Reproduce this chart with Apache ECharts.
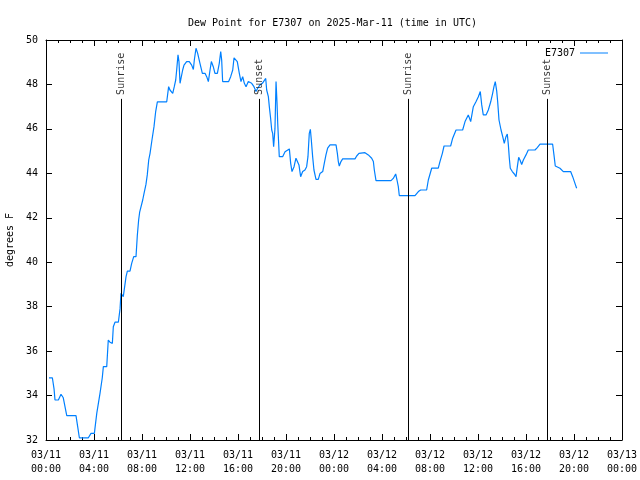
<!DOCTYPE html>
<html><head><meta charset="utf-8">
<script src="https://cdn.jsdelivr.net/npm/echarts@6/dist/echarts.min.js"></script>
<style>html,body{margin:0;padding:0;background:#fff}#c{width:640px;height:480px}</style>
</head><body><div id="c"></div>
<script>
// hours since 03/11 00:00 UTC
var hours = [0.25,0.53,0.67,0.75,1.03,1.25,1.44,1.73,2.5,2.64,2.78,3.53,3.75,4.03,4.23,4.5,4.69,4.78,5.06,5.19,5.33,5.53,5.61,5.75,6.03,6.17,6.25,6.44,6.67,6.78,7.0,7.14,7.31,7.5,7.61,7.72,7.81,7.94,8.06,8.17,8.33,8.44,8.56,8.67,8.83,9.0,9.14,9.28,10.06,10.22,10.33,10.56,10.69,10.81,10.89,11.0,11.08,11.17,11.25,11.39,11.5,11.72,11.94,12.14,12.28,12.36,12.5,12.64,12.83,13.03,13.25,13.39,13.53,13.67,13.78,13.94,14.08,14.28,14.44,14.56,14.64,14.72,15.22,15.39,15.56,15.67,15.78,15.94,16.11,16.25,16.39,16.53,16.67,16.86,17.0,17.14,17.33,17.5,17.64,17.83,18.03,18.31,18.39,18.53,18.61,18.72,18.81,18.89,18.97,19.08,19.17,19.25,19.31,19.44,19.72,19.92,20.28,20.39,20.5,20.67,20.83,21.08,21.22,21.39,21.58,21.72,21.83,21.94,22.03,22.11,22.22,22.33,22.5,22.69,22.83,23.06,23.19,23.33,23.47,23.67,24.17,24.28,24.36,24.44,24.58,24.72,25.75,25.89,26.08,26.58,26.86,27.14,27.28,27.36,27.5,28.75,28.94,29.14,29.25,29.36,29.44,30.75,31.03,31.22,31.72,31.86,32.14,32.69,32.83,33.03,33.17,33.72,33.89,34.17,34.72,34.92,35.19,35.39,35.61,35.83,36.03,36.19,36.31,36.44,36.67,36.86,37.06,37.22,37.33,37.44,37.56,37.64,37.75,37.92,38.06,38.19,38.33,38.44,38.53,38.61,38.69,38.86,39.03,39.17,39.28,39.39,39.5,39.64,39.78,40.0,40.19,40.75,40.94,41.17,42.22,42.33,42.44,42.58,42.83,43.11,43.72,43.89,44.08,44.22];
var dewPoint = [34.8,34.8,34.3,33.8,33.8,34.06,33.9,33.1,33.1,32.6,32.1,32.1,32.3,32.3,33.2,34.1,34.8,35.3,35.3,36.5,36.4,36.35,37.1,37.3,37.3,37.9,38.6,38.45,39.35,39.6,39.6,39.95,40.25,40.25,41.2,41.9,42.27,42.35,42.8,43.1,43.5,43.93,44.6,44.9,45.5,46.1,46.78,47.22,47.22,47.9,47.75,47.6,47.9,48.2,48.65,49.33,49.03,48.05,48.27,48.65,48.87,49.03,49.03,48.87,48.67,49.1,49.63,49.4,48.95,48.5,48.5,48.35,48.13,48.65,49.03,48.8,48.5,48.5,48.95,49.48,49.1,48.13,48.13,48.35,48.65,49.2,49.28,49.03,48.5,48.13,48.35,48.05,47.9,48.13,48.2,48.05,47.9,47.68,47.83,47.98,48.05,48.27,47.75,47.45,47.0,46.47,45.95,45.8,45.2,46.0,48.13,47.2,46.25,44.75,44.75,44.97,45.1,44.45,44.08,44.3,44.68,44.38,43.85,44.08,44.15,44.3,44.75,45.8,45.98,45.5,44.75,44.15,43.73,43.73,43.99,44.08,44.45,44.83,45.13,45.28,45.28,44.9,44.53,44.33,44.53,44.65,44.65,44.78,44.9,44.93,44.83,44.68,44.53,44.15,43.67,43.67,43.77,43.97,43.7,43.4,43.0,43.0,43.18,43.25,43.25,43.7,44.23,44.23,44.53,44.9,45.23,45.23,45.58,45.95,45.95,46.33,46.63,46.33,47.0,47.22,47.45,47.68,47.08,46.63,46.63,46.85,47.22,47.6,47.9,48.13,47.7,47.22,46.4,45.95,45.65,45.35,45.65,45.77,45.28,44.68,44.23,44.08,43.97,43.85,44.3,44.72,44.6,44.4,44.6,44.83,45.05,45.05,45.16,45.31,45.31,44.83,44.33,44.3,44.23,44.08,44.08,43.85,43.55,43.33];
var sunEventNames = ['Sunrise','Sunset','Sunrise','Sunset'];
var sunEventHours = [6.28,17.78,30.19,41.78];
var seriesName = 'E7307';
var titleText = 'Dew Point for E7307 on 2025-Mar-11 (time in UTC)';
var yTicks = [32,34,36,38,40,42,44,46,48,50];

var FONT = 'DejaVu Sans Mono';
var COLOR = '#0080ff';
var pts = hours.map(function(h,i){return [h, dewPoint[i]];});
var LABEL_TOP = 47.35;
function fmtX(v){
  var d = 11 + Math.floor(v/24);
  var hh = Math.round(v % 24);
  var p = function(n){return (n<10?'0':'')+n;};
  return '03/' + p(d) + '\n' + p(hh) + ':00';
}
var axisBase = {
  type:'value', min:0, max:48, interval:4,
  axisLine:{show:true, onZero:false, lineStyle:{color:'#000', width:1}},
  splitLine:{show:false},
  minorSplitLine:{show:false}
};
var chart = echarts.init(document.getElementById('c'), null, {renderer:'canvas'});
chart.setOption({
  animation:false,
  backgroundColor:'#fff',
  textStyle:{fontFamily:FONT},
  title:{text:titleText, left:183, top:13, textStyle:{fontFamily:FONT, fontSize:10, fontWeight:'normal', color:'#000'}},
  legend:{data:[seriesName], right:27, top:43, align:'right', icon:'rect', itemWidth:28, itemHeight:1,
    textStyle:{fontFamily:FONT, fontSize:10, color:'#000'}},
  grid:{left:46, right:18, top:40, bottom:40, containLabel:false, outerBoundsMode:'none'},
  xAxis:[
    Object.assign({}, axisBase, {position:'bottom',
      axisTick:{show:true, inside:true, length:6, lineStyle:{color:'#000'}},
      minorTick:{show:true, splitNumber:4, length:3, lineStyle:{color:'#000'}},
      axisLabel:{show:true, formatter:fmtX, fontFamily:FONT, fontSize:10, color:'#000', lineHeight:14, margin:8, showMinLabel:true, showMaxLabel:true, hideOverlap:false}}),
    Object.assign({}, axisBase, {position:'top',
      axisTick:{show:true, inside:true, length:6, lineStyle:{color:'#000'}},
      minorTick:{show:true, splitNumber:4, length:3, lineStyle:{color:'#000'}},
      axisLabel:{show:false}})
  ],
  yAxis:[
    {type:'value', min:yTicks[0], max:yTicks[yTicks.length-1], interval:2, position:'left',
      name:'degrees F', nameLocation:'middle', nameGap:31, nameRotate:90,
      nameTextStyle:{fontFamily:FONT, fontSize:10, color:'#000'},
      axisLine:{show:true, onZero:false, lineStyle:{color:'#000'}},
      axisTick:{show:true, inside:true, length:6, lineStyle:{color:'#000'}},
      axisLabel:{fontFamily:FONT, fontSize:10, color:'#000', margin:8},
      splitLine:{show:false}},
    {type:'value', min:yTicks[0], max:yTicks[yTicks.length-1], interval:2, position:'right',
      axisLine:{show:true, onZero:false, lineStyle:{color:'#000'}},
      axisTick:{show:true, inside:true, length:6, lineStyle:{color:'#000'}},
      axisLabel:{show:false}, splitLine:{show:false}}
  ],
  series:[
    {name:seriesName, type:'line', data:pts, symbol:'none', showSymbol:false,
      lineStyle:{color:COLOR, width:1.2}, itemStyle:{color:COLOR}, z:3},
    {name:'sun', type:'scatter', symbol:'circle', symbolSize:0, silent:true,
      data:sunEventHours.map(function(h,i){return {name:sunEventNames[i], value:[h, LABEL_TOP]};}),
      label:{show:true, formatter:'{b}', rotate:90, position:[0,-4], align:'left', verticalAlign:'middle',
        fontFamily:FONT, fontSize:10, color:'#000'},
      markLine:{silent:true, symbol:['none','none'], label:{show:false},
        lineStyle:{color:'#000', width:1, type:'solid'},
        data:sunEventHours.map(function(h){return [{coord:[h, yTicks[0]]},{coord:[h, LABEL_TOP]}];})},
      z:4}
  ]
});
</script></body></html>
